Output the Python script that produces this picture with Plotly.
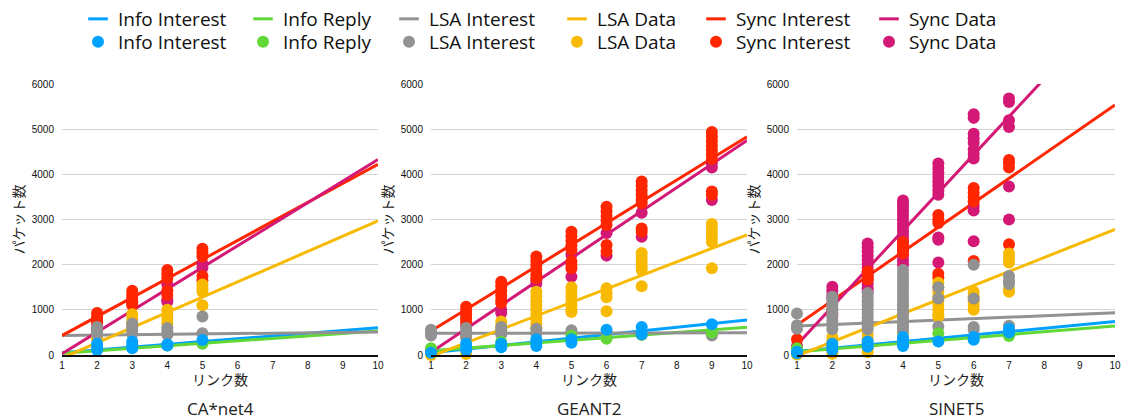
import plotly.graph_objects as go

# ---------------- data ----------------
LINK_TICKS = [1, 2, 3, 4, 5, 6, 7, 8, 9, 10]
PACKET_TICKS = [0, 1000, 2000, 3000, 4000, 5000, 6000]
SERIES = ["Info Interest", "Info Reply", "LSA Interest", "LSA Data", "Sync Interest", "Sync Data"]
COLORS = ["#00A2FF", "#61D836", "#929292", "#F8BA00", "#FF2600", "#D31876"]
NETWORKS = ["CA*net4", "GEANT2", "SINET5"]
TREND_LINKS = [1, 10]

# packet counts per link count (link count -> list of measurements)
CANET_INFO_INTEREST = {2: [250, 180, 110], 3: [300, 220, 150], 4: [240, 210], 5: [330]}
CANET_INFO_REPLY = {2: [130], 3: [170], 4: [210], 5: [250]}
CANET_LSA_INTEREST = {2: [620, 560, 500, 450], 3: [700, 620, 540, 470], 4: [600, 520, 450], 5: [850, 480]}
CANET_LSA_DATA = {2: [420, 350], 3: [900, 800, 700, 620], 4: [1000, 900, 800, 700], 5: [1560, 1480, 1400, 1100]}
CANET_SYNC_INTEREST = {2: [930, 850, 780, 720], 3: [1420, 1340, 1260, 1180, 1100],
                       4: [1880, 1790, 1700, 1430, 1330], 5: [2350, 2270, 2180, 1750, 1650]}
CANET_SYNC_DATA = {2: [720, 620, 540], 3: [1200, 1150], 4: [1560, 1220, 1180], 5: [2020, 1930]}
CANET_TREND_START = [50, 40, 430, -67, 430, 30]
CANET_TREND_END = [605, 530, 510, 2967, 4220, 4330]

GEANT_INFO_INTEREST = {1: [50], 2: [250, 180, 110], 3: [250, 170], 4: [350, 270, 200], 5: [350, 270],
                       6: [560], 7: [620, 460], 9: [680]}
GEANT_INFO_REPLY = {1: [150], 2: [150], 3: [290], 4: [300], 5: [420], 6: [360], 7: [450], 9: [500]}
GEANT_LSA_INTEREST = {1: [560, 500, 430], 2: [600, 520, 440, 380], 3: [620, 540, 460], 4: [580, 480],
                      5: [550, 480], 6: [480], 7: [450], 9: [430]}
GEANT_LSA_DATA = {1: [0], 2: [20], 3: [740, 640, 560],
                  4: [1400, 1300, 1200, 1100, 1000, 900, 800, 700, 600],
                  5: [1500, 1400, 1300, 1200, 1100, 1000, 950], 6: [1480, 1380, 1280, 970],
                  7: [2260, 2160, 2060, 1960, 1880, 1520], 9: [2900, 2800, 2700, 2600, 2500, 1920]}
GEANT_SYNC_INTEREST = {2: [1070, 980, 900, 820, 740], 3: [1620, 1520, 1420, 1320, 1220, 1150],
                       4: [2180, 2080, 1980, 1880, 1780, 1700],
                       5: [2730, 2630, 2530, 2430, 2330, 2070, 1990, 1920],
                       6: [3280, 3180, 3080, 2980, 2880, 2435, 2290],
                       7: [3840, 3740, 3640, 3540, 3440, 3360, 2800, 2730],
                       9: [4940, 4840, 4740, 4640, 4540, 4440, 4340, 3620, 3540]}
GEANT_SYNC_DATA = {1: [100], 2: [650], 3: [1000, 930], 4: [1650, 1580], 5: [2220, 1730],
                   6: [2700, 2200], 7: [3150, 2620], 9: [4250, 4150, 3430]}
GEANT_TREND_START = [50, 95, 480, -30, 530, 60]
GEANT_TREND_END = [775, 612, 495, 2660, 4830, 4750]

SINET_INFO_INTEREST = {1: [70, 40], 2: [250, 170, 110], 3: [300, 230, 180], 4: [400, 330, 260, 200],
                       5: [300], 6: [400, 340], 7: [580, 500]}
SINET_INFO_REPLY = {1: [150], 2: [150], 3: [200], 4: [250], 5: [480], 6: [350], 7: [420]}
SINET_LSA_INTEREST = {1: [920, 660, 580],
                      2: [1290, 1200, 1110, 1020, 930, 840, 750, 660, 570],
                      3: [1370, 1280, 1190, 1100, 1010, 920, 830, 740, 650, 570],
                      4: [1880, 1790, 1700, 1610, 1520, 1430, 1340, 1250, 1160, 1070, 980, 890, 800, 710, 620, 550],
                      5: [1500, 1250, 630], 6: [2000, 1250, 620, 560], 7: [1750, 1650, 1570, 650]}
SINET_LSA_DATA = {1: [10], 2: [400, 300, 200, 100, 30], 3: [450, 350, 250, 150, 60],
                  4: [1100, 900, 700, 500, 300],
                  5: [1600, 1500, 1400, 1300, 1200, 1100, 1000, 900, 850],
                  6: [1400, 1300, 1200, 1100, 1000], 7: [2250, 2150, 2050, 1450, 1400]}
SINET_SYNC_INTEREST = {1: [350], 2: [1000, 900], 3: [1850, 1750, 1670], 4: [2500, 2400, 2300, 2250],
                       5: [3100, 3000, 2920, 1800, 1720], 6: [3700, 3600, 3500, 3400, 2080],
                       7: [4320, 4250, 4150, 2450]}
SINET_SYNC_DATA = {1: [200], 2: [1510, 1420, 1330, 1250],
                   3: [2470, 2380, 2290, 2200, 2110, 2020, 1930, 1840, 1750, 1660, 1570, 1480, 1400],
                   4: [3420, 3340, 3260, 3180, 3090, 3000, 2910, 2820, 2730, 2640, 2550, 2460, 2370,
                       2280, 2190, 2100, 2000],
                   5: [4240, 4140, 4040, 3940, 3840, 3740, 3640, 3550, 2600, 2550, 2050],
                   6: [5330, 5250, 4900, 4800, 4700, 4550, 4450, 4350, 3300, 3200, 2520],
                   7: [5680, 5600, 5200, 5050, 3730, 3000]}
SINET_TREND_START = [75, 70, 640, -20, 664, 230]
SINET_TREND_END = [740, 640, 935, 2782, 5535, 7800]

POINTS = [
    [CANET_INFO_INTEREST, CANET_INFO_REPLY, CANET_LSA_INTEREST, CANET_LSA_DATA, CANET_SYNC_INTEREST, CANET_SYNC_DATA],
    [GEANT_INFO_INTEREST, GEANT_INFO_REPLY, GEANT_LSA_INTEREST, GEANT_LSA_DATA, GEANT_SYNC_INTEREST, GEANT_SYNC_DATA],
    [SINET_INFO_INTEREST, SINET_INFO_REPLY, SINET_LSA_INTEREST, SINET_LSA_DATA, SINET_SYNC_INTEREST, SINET_SYNC_DATA],
]
TRENDS = [
    (CANET_TREND_START, CANET_TREND_END),
    (GEANT_TREND_START, GEANT_TREND_END),
    (SINET_TREND_START, SINET_TREND_END),
]

# ---------------- layout helpers ----------------
W, H = 1121, 419
FONT = "Liberation Sans, Arial, Noto Sans CJK JP, sans-serif"
LEGEND_FONT = "Open Sans, Liberation Sans, sans-serif"
JP_FONT = "Noto Sans CJK JP, sans-serif"
PANEL_PX = [(62, 378), (431, 747), (797, 1115)]
PLOT_TOP, PLOT_BOTTOM = 84, 355
LEGEND_TEXT_X = [118, 283, 429, 597, 736, 909]
LEGEND_ROW_Y = [19, 42]


def px_x(v):
    return v / W


def px_y(v):
    return 1 - v / H


fig = go.Figure()

for p in range(3):
    suffix = "" if p == 0 else str(p + 1)
    xa, ya = "x" + suffix, "y" + suffix
    starts, ends = TRENDS[p]
    # trend lines
    for s in range(6):
        fig.add_trace(go.Scatter(
            x=TREND_LINKS, y=[starts[s], ends[s]], mode="lines",
            line=dict(color=COLORS[s], width=3), showlegend=False,
            hoverinfo="skip", xaxis=xa, yaxis=ya))
    # measurements (Sync Data at bottom ... Info Interest on top)
    for s in reversed(range(6)):
        xs, ys = [], []
        for link, vals in POINTS[p][s].items():
            for v in vals:
                xs.append(link)
                ys.append(v)
        fig.add_trace(go.Scatter(
            x=xs, y=ys, mode="markers", name=SERIES[s],
            marker=dict(color=COLORS[s], size=12, line=dict(width=0)),
            cliponaxis=False, showlegend=(p == 0),
            legend="legend" + str(s + 7),
            xaxis=xa, yaxis=ya))

# legend-only line entries
for s in range(6):
    fig.add_trace(go.Scatter(
        x=[None], y=[None], mode="markers", name=SERIES[s],
        marker=dict(symbol="line-ew", size=14, line=dict(width=3, color=COLORS[s])),
        showlegend=True, legend="legend" + ("" if s == 0 else str(s + 1))))

layout = dict(
    width=W, height=H, margin=dict(l=0, r=0, t=0, b=0, autoexpand=False),
    paper_bgcolor="white", plot_bgcolor="white",
    font=dict(family=FONT, color="#222222"),
    showlegend=True,
)

for k in range(12):
    name = "legend" if k == 0 else "legend" + str(k + 1)
    col, row = k % 6, k // 6
    layout[name] = dict(
        x=px_x(LEGEND_TEXT_X[col] - 40), y=px_y(LEGEND_ROW_Y[row]),
        xanchor="left", yanchor="middle", orientation="v",
        bgcolor="rgba(0,0,0,0)", borderwidth=0,
        font=dict(size=19, family=LEGEND_FONT, color="#111111"),
    )

annotations = []
for p in range(3):
    suffix = "" if p == 0 else str(p + 1)
    x0, x1 = PANEL_PX[p]
    layout["xaxis" + suffix] = dict(
        domain=[px_x(x0), px_x(x1)], range=[1, 10], tickvals=LINK_TICKS,
        showgrid=False, zeroline=False, showline=True, linecolor="#111111", linewidth=2,
        ticks="", tickfont=dict(size=10, color="#111111"), anchor="y" + suffix,
        fixedrange=True)
    layout["yaxis" + suffix] = dict(
        domain=[px_y(PLOT_BOTTOM), px_y(PLOT_TOP)], range=[0, 6000], tickvals=PACKET_TICKS,
        showgrid=True, gridcolor="#d4d4d4", gridwidth=1, zeroline=False, showline=False,
        ticks="", ticklabelstandoff=7, tickfont=dict(size=10, color="#111111"),
        anchor="x" + suffix, fixedrange=True)
    cx = (x0 + x1) / 2
    annotations.append(dict(text="リンク数", x=px_x(cx), y=px_y(379), xref="paper", yref="paper",
                            showarrow=False, font=dict(size=14, family=JP_FONT, color="#222222"),
                            xanchor="center", yanchor="middle"))
    annotations.append(dict(text="パケット数", x=px_x(x0 - 45), y=px_y((PLOT_TOP + PLOT_BOTTOM) / 2),
                            xref="paper", yref="paper", textangle=-90, showarrow=False,
                            font=dict(size=14, family=JP_FONT, color="#222222"),
                            xanchor="center", yanchor="middle"))
    annotations.append(dict(text=NETWORKS[p], x=px_x(cx), y=px_y(408), xref="paper", yref="paper",
                            showarrow=False, font=dict(size=17, family=LEGEND_FONT, color="#222222"),
                            xanchor="center", yanchor="middle"))
layout["annotations"] = annotations
fig.update_layout(**layout)

fig.write_html("out.html", config={"displayModeBar": False},
               post_script="document.body.style.margin='0px';")
